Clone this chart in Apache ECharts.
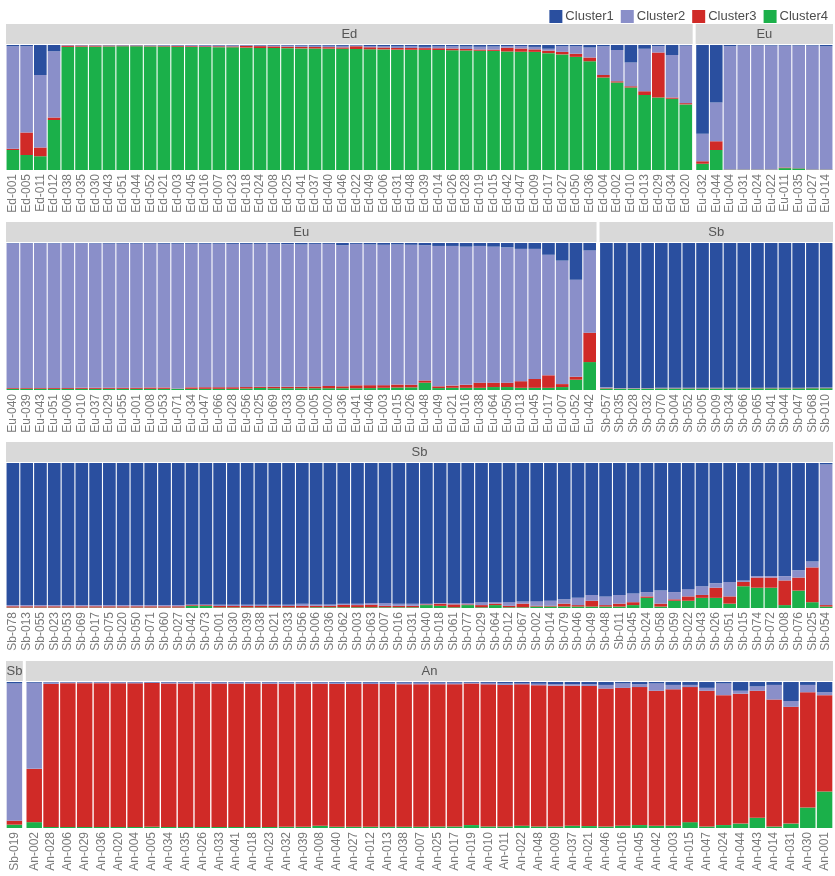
<!DOCTYPE html>
<html><head><meta charset="utf-8">
<script src="https://cdn.jsdelivr.net/npm/echarts@6/dist/echarts.min.js"></script>
<style>html,body{margin:0;padding:0;background:#fff}#c{width:835px;height:876px}</style>
</head><body><div id="c"></div><script>
// ---------------- DATA ----------------
const clusterNames = ['Cluster1','Cluster2','Cluster3','Cluster4'];

const edLabels = ['Ed-001','Ed-005','Ed-011','Ed-012','Ed-038','Ed-035','Ed-030','Ed-043','Ed-051','Ed-044','Ed-052','Ed-021','Ed-003','Ed-045','Ed-016','Ed-007','Ed-023','Ed-018','Ed-024','Ed-008','Ed-025','Ed-041','Ed-037','Ed-040','Ed-046','Ed-022','Ed-049','Ed-006','Ed-031','Ed-048','Ed-039','Ed-014','Ed-026','Ed-028','Ed-019','Ed-015','Ed-042','Ed-047','Ed-009','Ed-017','Ed-027','Ed-050','Ed-036','Ed-004','Ed-002','Ed-010','Ed-013','Ed-029','Ed-034','Ed-020'];
const edC1 = [0.01,0.01,0.24,0.05,0.002,0.002,0.002,0.002,0.002,0.002,0.002,0.003,0.003,0.003,0.004,0.004,0.004,0.003,0.004,0.005,0.005,0.005,0.006,0.006,0.007,0.004,0.008,0.008,0.012,0.01,0.015,0.012,0.01,0.012,0.014,0.012,0.01,0.008,0.015,0.03,0.01,0.01,0.02,0.01,0.04,0.14,0.03,0.01,0.08,0.005];
const edC2 = [0.82,0.69,0.58,0.53,0.003,0.003,0.003,0.003,0.003,0.003,0.004,0.004,0.005,0.006,0.006,0.006,0.007,0.004,0.005,0.006,0.008,0.01,0.01,0.011,0.012,0.006,0.01,0.012,0.012,0.014,0.01,0.014,0.018,0.02,0.022,0.025,0.012,0.02,0.02,0.015,0.045,0.06,0.08,0.23,0.25,0.19,0.34,0.05,0.34,0.46];
const edC3 = [0.01,0.18,0.07,0.02,0.01,0.008,0.008,0.006,0.005,0.005,0.005,0.005,0.006,0.006,0.006,0.007,0.007,0.014,0.015,0.013,0.012,0.012,0.012,0.012,0.011,0.022,0.016,0.015,0.013,0.014,0.014,0.014,0.014,0.012,0.01,0.01,0.03,0.026,0.02,0.02,0.02,0.025,0.03,0.02,0.01,0.01,0.03,0.36,0.01,0.01];
const edC4 = [0.16,0.12,0.11,0.40,0.985,0.987,0.987,0.989,0.99,0.99,0.989,0.988,0.986,0.985,0.984,0.983,0.982,0.979,0.976,0.976,0.975,0.973,0.972,0.971,0.97,0.968,0.966,0.965,0.963,0.962,0.961,0.96,0.958,0.956,0.954,0.953,0.948,0.946,0.945,0.935,0.925,0.905,0.87,0.74,0.70,0.66,0.60,0.58,0.57,0.525];

const eu1Labels = ['Eu-032','Eu-044','Eu-004','Eu-031','Eu-024','Eu-022','Eu-011','Eu-035','Eu-027','Eu-014'];
const eu1C1 = [0.71,0.46,0.01,0.005,0.005,0.005,0.005,0.005,0.005,0.01];
const eu1C2 = [0.22,0.31,0.985,0.99,0.99,0.99,0.975,0.98,0.99,0.985];
const eu1C3 = [0.02,0.07,0.002,0.002,0.002,0.002,0.005,0.002,0.002,0.002];
const eu1C4 = [0.05,0.16,0.003,0.003,0.003,0.003,0.015,0.013,0.003,0.003];

const eu2Labels = ['Eu-040','Eu-039','Eu-043','Eu-051','Eu-006','Eu-010','Eu-037','Eu-029','Eu-055','Eu-001','Eu-008','Eu-053','Eu-071','Eu-034','Eu-047','Eu-066','Eu-028','Eu-056','Eu-025','Eu-069','Eu-033','Eu-009','Eu-005','Eu-002','Eu-036','Eu-041','Eu-046','Eu-003','Eu-015','Eu-026','Eu-048','Eu-049','Eu-021','Eu-016','Eu-038','Eu-064','Eu-050','Eu-013','Eu-045','Eu-017','Eu-007','Eu-052','Eu-042'];
const eu2C1 = [0.002,0.002,0.003,0.003,0.003,0.003,0.003,0.004,0.004,0.004,0.004,0.005,0.005,0.005,0.005,0.005,0.006,0.006,0.006,0.006,0.008,0.01,0.006,0.006,0.015,0.006,0.01,0.012,0.01,0.012,0.015,0.02,0.02,0.025,0.02,0.025,0.03,0.04,0.04,0.08,0.12,0.25,0.05];
const eu2C2 = [0.985,0.985,0.984,0.983,0.983,0.982,0.982,0.981,0.98,0.98,0.979,0.978,0.985,0.977,0.976,0.976,0.975,0.974,0.972,0.972,0.97,0.968,0.97,0.966,0.96,0.962,0.957,0.955,0.953,0.952,0.92,0.955,0.95,0.94,0.93,0.925,0.92,0.9,0.885,0.82,0.84,0.66,0.56];
const eu2C3 = [0.005,0.005,0.005,0.006,0.006,0.007,0.007,0.007,0.008,0.008,0.009,0.009,0.002,0.01,0.011,0.011,0.011,0.01,0.008,0.01,0.01,0.01,0.012,0.016,0.013,0.02,0.02,0.018,0.02,0.018,0.015,0.012,0.015,0.02,0.035,0.03,0.03,0.045,0.06,0.085,0.02,0.02,0.20];
const eu2C4 = [0.008,0.008,0.008,0.008,0.008,0.008,0.008,0.008,0.008,0.008,0.008,0.008,0.008,0.008,0.008,0.008,0.008,0.01,0.014,0.012,0.012,0.012,0.012,0.012,0.012,0.012,0.013,0.015,0.017,0.018,0.05,0.013,0.015,0.015,0.015,0.02,0.02,0.015,0.015,0.015,0.02,0.07,0.19];

const sb2Labels = ['Sb-057','Sb-035','Sb-028','Sb-032','Sb-070','Sb-004','Sb-052','Sb-005','Sb-009','Sb-034','Sb-066','Sb-065','Sb-041','Sb-044','Sb-047','Sb-068','Sb-010'];
const sb2C1 = [0.982,0.986,0.986,0.986,0.985,0.985,0.985,0.985,0.985,0.985,0.985,0.984,0.984,0.984,0.984,0.983,0.983];
const sb2C2 = [0.005,0.003,0.003,0.003,0.003,0.003,0.003,0.003,0.003,0.003,0.003,0.003,0.003,0.003,0.003,0.003,0.003];
const sb2C3 = [0.003,0.002,0.002,0.002,0.002,0.002,0.002,0.002,0.002,0.002,0.002,0.002,0.002,0.002,0.002,0.002,0.002];
const sb2C4 = [0.01,0.009,0.009,0.009,0.01,0.01,0.01,0.01,0.01,0.01,0.01,0.011,0.011,0.011,0.011,0.012,0.012];

const sb3Labels = ['Sb-078','Sb-013','Sb-055','Sb-023','Sb-053','Sb-069','Sb-017','Sb-075','Sb-020','Sb-050','Sb-071','Sb-060','Sb-027','Sb-042','Sb-073','Sb-001','Sb-030','Sb-039','Sb-038','Sb-021','Sb-033','Sb-056','Sb-006','Sb-036','Sb-062','Sb-003','Sb-063','Sb-007','Sb-016','Sb-031','Sb-040','Sb-018','Sb-061','Sb-077','Sb-029','Sb-064','Sb-012','Sb-067','Sb-002','Sb-014','Sb-079','Sb-046','Sb-049','Sb-048','Sb-011','Sb-045','Sb-024','Sb-058','Sb-059','Sb-022','Sb-043','Sb-026','Sb-051','Sb-015','Sb-074','Sb-072','Sb-008','Sb-076','Sb-025','Sb-054'];
const sb3C1 = [0.98,0.98,0.98,0.98,0.98,0.98,0.98,0.98,0.98,0.98,0.98,0.98,0.98,0.975,0.975,0.978,0.978,0.978,0.978,0.978,0.978,0.97,0.975,0.975,0.97,0.97,0.965,0.965,0.97,0.97,0.97,0.965,0.965,0.965,0.96,0.96,0.96,0.955,0.955,0.95,0.94,0.93,0.91,0.92,0.91,0.9,0.89,0.88,0.89,0.87,0.85,0.83,0.82,0.81,0.78,0.78,0.78,0.74,0.68,0.01];
const sb3C2 = [0.008,0.008,0.008,0.008,0.008,0.008,0.008,0.008,0.008,0.008,0.008,0.008,0.008,0.005,0.005,0.008,0.008,0.008,0.008,0.008,0.008,0.015,0.01,0.01,0.008,0.01,0.012,0.02,0.015,0.015,0.005,0.005,0.01,0.01,0.02,0.01,0.025,0.015,0.03,0.035,0.03,0.05,0.04,0.06,0.06,0.06,0.03,0.09,0.05,0.05,0.06,0.03,0.1,0.01,0.01,0.01,0.03,0.05,0.04,0.97];
const sb3C3 = [0.009,0.009,0.009,0.009,0.009,0.009,0.009,0.009,0.009,0.009,0.009,0.009,0.009,0.005,0.005,0.01,0.01,0.01,0.01,0.01,0.01,0.012,0.01,0.01,0.017,0.015,0.018,0.01,0.01,0.01,0.005,0.015,0.02,0.005,0.015,0.01,0.01,0.025,0.005,0.005,0.02,0.01,0.04,0.01,0.02,0.02,0.01,0.02,0.01,0.03,0.02,0.07,0.05,0.03,0.07,0.07,0.17,0.09,0.24,0.01];
const sb3C4 = [0.003,0.003,0.003,0.003,0.003,0.003,0.003,0.003,0.003,0.003,0.003,0.003,0.003,0.015,0.015,0.004,0.004,0.004,0.004,0.004,0.004,0.003,0.005,0.005,0.005,0.005,0.005,0.005,0.005,0.005,0.02,0.015,0.005,0.02,0.005,0.02,0.005,0.005,0.01,0.01,0.01,0.01,0.01,0.01,0.01,0.02,0.07,0.01,0.05,0.05,0.07,0.07,0.03,0.15,0.14,0.14,0.02,0.12,0.04,0.01];

const sb4Labels = ['Sb-019'];
const sb4C1 = [0.01];
const sb4C2 = [0.94];
const sb4C3 = [0.027];
const sb4C4 = [0.023];

const anLabels = ['An-002','An-028','An-006','An-029','An-036','An-020','An-004','An-005','An-034','An-035','An-026','An-033','An-041','An-018','An-023','An-032','An-039','An-008','An-040','An-027','An-012','An-013','An-038','An-007','An-025','An-017','An-019','An-010','An-011','An-022','An-048','An-009','An-037','An-021','An-046','An-016','An-045','An-042','An-003','An-015','An-047','An-024','An-044','An-043','An-014','An-031','An-030','An-001'];
const anC1 = [0.005,0.003,0.003,0.003,0.003,0.003,0.003,0.003,0.004,0.004,0.004,0.004,0.004,0.004,0.004,0.004,0.004,0.004,0.005,0.005,0.005,0.005,0.005,0.005,0.005,0.005,0.005,0.006,0.01,0.01,0.012,0.015,0.015,0.015,0.02,0.01,0.015,0.01,0.02,0.02,0.04,0.01,0.06,0.03,0.02,0.13,0.02,0.07];
const anC2 = [0.59,0.01,0.005,0.005,0.005,0.006,0.006,0.004,0.006,0.006,0.007,0.007,0.007,0.007,0.008,0.008,0.008,0.008,0.008,0.009,0.009,0.009,0.01,0.01,0.01,0.01,0.005,0.01,0.01,0.006,0.01,0.01,0.01,0.012,0.025,0.03,0.02,0.05,0.03,0.015,0.02,0.08,0.02,0.03,0.1,0.04,0.05,0.02];
const anC3 = [0.365,0.98,0.985,0.985,0.985,0.984,0.984,0.985,0.983,0.983,0.982,0.982,0.982,0.982,0.981,0.98,0.98,0.973,0.979,0.978,0.978,0.977,0.976,0.976,0.975,0.975,0.97,0.974,0.97,0.968,0.968,0.965,0.96,0.96,0.945,0.945,0.945,0.925,0.935,0.925,0.93,0.89,0.89,0.87,0.87,0.8,0.79,0.66];
const anC4 = [0.04,0.007,0.007,0.007,0.007,0.007,0.007,0.008,0.007,0.007,0.007,0.007,0.007,0.007,0.007,0.008,0.008,0.015,0.008,0.008,0.008,0.009,0.009,0.009,0.01,0.01,0.02,0.01,0.01,0.016,0.01,0.01,0.015,0.013,0.01,0.015,0.02,0.015,0.015,0.04,0.01,0.02,0.03,0.07,0.01,0.03,0.14,0.25];

// ---------------- STYLE / LAYOUT ----------------
const clusterColors = ['#2a4f9f', '#8a8fc9', '#d02a27', '#1bb04a'];
const FONT = '"Liberation Sans", Arial, Helvetica, sans-serif';
const plotLeft = 6, plotRight = 833, panelGap = 3, stripH = 20;
const rowLayout = [
  {stripTop: 24, top: 45, bottom: 170},
  {stripTop: 222, top: 243, bottom: 390},
  {stripTop: 442, top: 463, bottom: 608},
  {stripTop: 661, top: 682, bottom: 828}
];
const panels = [
  {row: 0, strip: 'Ed', labels: edLabels, q: [edC1, edC2, edC3, edC4]},
  {row: 0, strip: 'Eu', labels: eu1Labels, q: [eu1C1, eu1C2, eu1C3, eu1C4]},
  {row: 1, strip: 'Eu', labels: eu2Labels, q: [eu2C1, eu2C2, eu2C3, eu2C4]},
  {row: 1, strip: 'Sb', labels: sb2Labels, q: [sb2C1, sb2C2, sb2C3, sb2C4]},
  {row: 2, strip: 'Sb', labels: sb3Labels, q: [sb3C1, sb3C2, sb3C3, sb3C4]},
  {row: 3, strip: 'Sb', labels: sb4Labels, q: [sb4C1, sb4C2, sb4C3, sb4C4]},
  {row: 3, strip: 'An', labels: anLabels, q: [anC1, anC2, anC3, anC4]}
];

const grids = [], xAxes = [], yAxes = [], series = [], graphics = [];
rowLayout.forEach((rl, r) => {
  const inRow = panels.filter(p => p.row === r);
  const total = inRow.reduce((s, p) => s + p.labels.length, 0);
  const unit = (plotRight - plotLeft - panelGap * (inRow.length - 1)) / total;
  let left = plotLeft;
  inRow.forEach(p => {
    p.left = left; p.width = unit * p.labels.length;
    left += p.width + panelGap;
  });
});
panels.forEach((p, i) => {
  const rl = rowLayout[p.row];
  grids.push({left: p.left, top: rl.top, width: p.width, height: rl.bottom - rl.top});
  xAxes.push({
    type: 'category', gridIndex: i, data: p.labels,
    axisLine: {show: false}, axisTick: {show: false},
    axisLabel: {interval: 0, rotate: 90, fontSize: 12, color: '#7a7a7a', margin: 4, fontFamily: FONT}
  });
  yAxes.push({type: 'value', gridIndex: i, min: 0, max: 1, show: false});
  const sums = p.labels.map((_, j) => p.q[0][j] + p.q[1][j] + p.q[2][j] + p.q[3][j]);
  for (let k = 3; k >= 0; k--) {
    series.push({
      type: 'bar', name: clusterNames[k], xAxisIndex: i, yAxisIndex: i, stack: 'p' + i,
      barCategoryGap: '8%', silent: true, animation: false,
      itemStyle: {color: clusterColors[k]},
      data: p.q[k].map((v, j) => v / sums[j])
    });
  }
  graphics.push({type: 'rect', shape: {x: p.left, y: rl.stripTop, width: p.width, height: stripH}, style: {fill: '#d9d9d9'}, silent: true});
  graphics.push({type: 'text', x: p.left + p.width / 2, y: rl.stripTop + stripH / 2,
    style: {text: p.strip, fill: '#555555', font: '13px ' + FONT, align: 'center', verticalAlign: 'middle'}, silent: true});
});

const chart = echarts.init(document.getElementById('c'), null, {renderer: 'canvas'});
chart.setOption({
  backgroundColor: '#ffffff',
  animation: false,
  legend: {
    data: clusterNames, right: 2, top: 5, icon: 'rect', itemWidth: 13, itemHeight: 13, itemGap: 7,
    textStyle: {fontSize: 13, color: '#4d4d4d', fontFamily: FONT, padding: [0, 0, 0, -2]},
    selectedMode: false
  },
  grid: grids, xAxis: xAxes, yAxis: yAxes, series: series, graphic: graphics
});
</script></body></html>
